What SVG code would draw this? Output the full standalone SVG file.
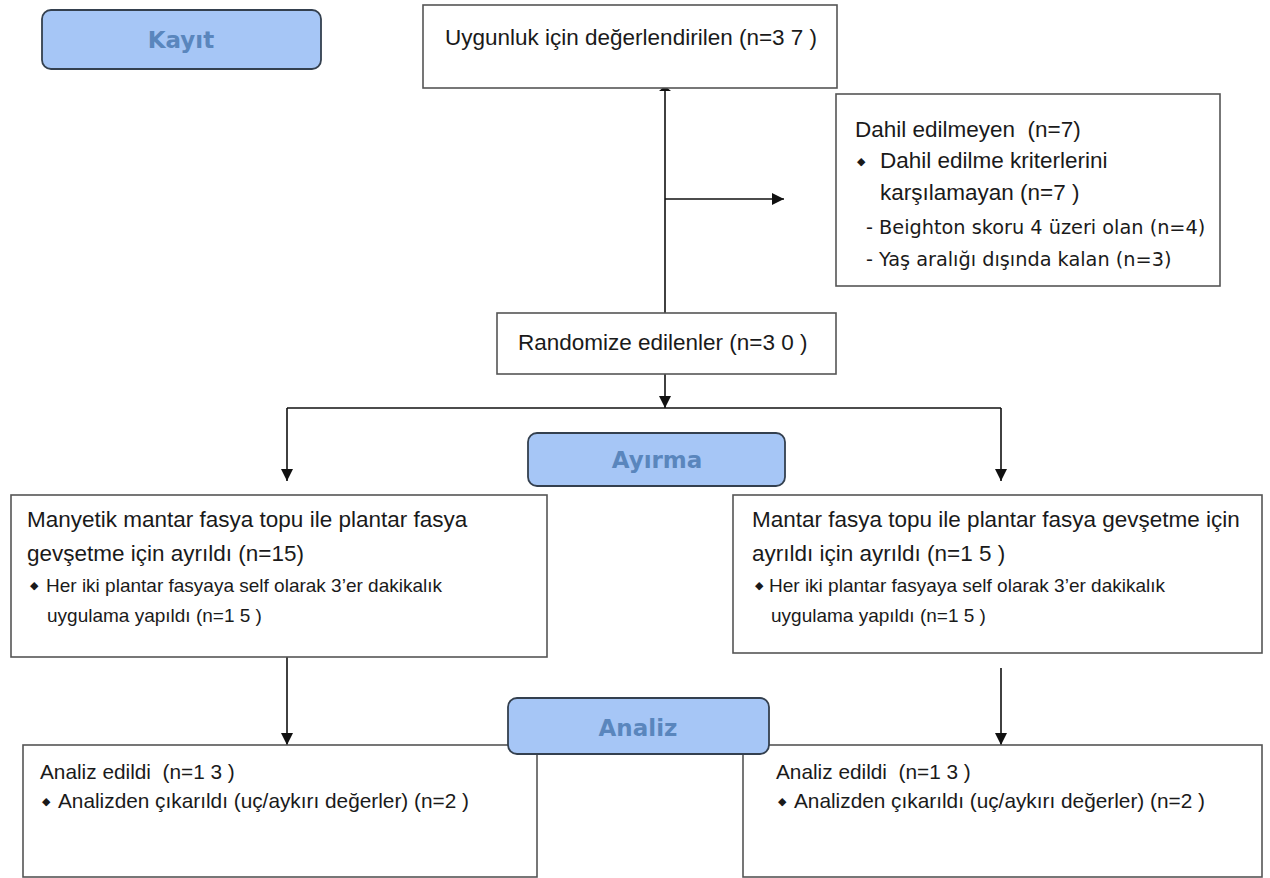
<svg xmlns="http://www.w3.org/2000/svg" width="1270" height="878" viewBox="0 0 1270 878">
<defs>
<marker id="ahb" viewBox="0 0 10 10" refX="10" refY="5" markerWidth="12" markerHeight="12" markerUnits="userSpaceOnUse" orient="auto">
<path d="M0,0 L10,5 L0,10 z" fill="#111"/>
</marker>
</defs>
<style>
.box{fill:#fff;stroke:#555;stroke-width:1.6}
.hdr{fill:#a6c6f6;stroke:#34404f;stroke-width:1.8}
.ht{font-family:"DejaVu Sans",sans-serif;font-weight:bold;font-size:23px;fill:#5a86bd;text-anchor:middle}
.t{font-family:"Liberation Sans",Arial,sans-serif;font-size:22.5px;fill:#1a1a1a;white-space:pre}
.s{font-family:"Liberation Sans",Arial,sans-serif;font-size:19px;fill:#1a1a1a}
.b{font-family:"Liberation Sans",Arial,sans-serif;font-size:20.8px;fill:#1a1a1a;white-space:pre}
.d{font-family:"DejaVu Sans",sans-serif;font-size:19.3px;fill:#1a1a1a}
.bul{font-family:"DejaVu Sans",sans-serif;font-size:11px;fill:#1a1a1a}
.ln{fill:none;stroke:#111;stroke-width:1.6}
</style>
<rect width="1270" height="878" fill="#fff"/>

<g id="connectors">
<path class="ln" d="M665,88 L665,313"/>
<path d="M659,91 L665,86 L671,91 z" fill="#111"/>
<path class="ln" d="M665,199 L784,199" marker-end="url(#ahb)"/>
<path class="ln" d="M665,374 L665,408" marker-end="url(#ahb)"/>
<path class="ln" d="M287,408 L1001,408"/>
<path class="ln" d="M287,408 L287,481" marker-end="url(#ahb)"/>
<path class="ln" d="M1001,408 L1001,481" marker-end="url(#ahb)"/>
<path class="ln" d="M287,657 L287,745" marker-end="url(#ahb)"/>
<path class="ln" d="M1001,668 L1001,745" marker-end="url(#ahb)"/>
</g>

<g id="kayit">
<rect class="hdr" x="42" y="10" width="279" height="59" rx="9"/>
<text class="ht" x="181" y="48">Kayıt</text>
</g>

<g id="uygunluk">
<rect class="box" x="423" y="5" width="414" height="83"/>
<text class="t" x="445" y="45">Uygunluk için değerlendirilen (n=3 7 )</text>
</g>

<g id="dahil-edilmeyen">
<rect class="box" x="836" y="94" width="384" height="192"/>
<text class="t" x="855" y="137" xml:space="preserve">Dahil edilmeyen  (n=7)</text>
<text class="bul" x="857" y="165">◆</text>
<text class="t" x="880" y="168">Dahil edilme kriterlerini</text>
<text class="t" x="880" y="200">karşılamayan (n=7 )</text>
<text class="d" x="866" y="234">- Beighton skoru 4 üzeri olan (n=4)</text>
<text class="d" x="866" y="266">- Yaş aralığı dışında kalan (n=3)</text>
</g>

<g id="randomize">
<rect class="box" x="497" y="313" width="339" height="61"/>
<text class="t" x="518" y="350">Randomize edilenler (n=3 0 )</text>
</g>

<g id="sol-grup">
<rect class="box" x="11" y="495" width="536" height="162"/>
<text class="t" x="27" y="527">Manyetik mantar fasya topu ile plantar fasya</text>
<text class="t" x="27" y="561">gevşetme için ayrıldı (n=15)</text>
<text class="bul" x="30" y="589">◆</text>
<text class="s" x="46" y="592">Her iki plantar fasyaya self olarak 3’er dakikalık</text>
<text class="s" x="47" y="622">uygulama yapıldı (n=1 5 )</text>
</g>

<g id="sag-grup">
<rect class="box" x="733" y="495" width="529" height="158"/>
<text class="t" x="752" y="527">Mantar fasya topu ile plantar fasya gevşetme için</text>
<text class="t" x="752" y="561">ayrıldı için ayrıldı (n=1 5 )</text>
<text class="bul" x="755" y="589">◆</text>
<text class="s" x="769" y="592">Her iki plantar fasyaya self olarak 3’er dakikalık</text>
<text class="s" x="771" y="622">uygulama yapıldı (n=1 5 )</text>
</g>

<g id="ayirma">
<rect class="hdr" x="528" y="433" width="257" height="53" rx="9"/>
<text class="ht" x="657" y="468">Ayırma</text>
</g>

<g id="sol-analiz">
<rect class="box" x="23" y="745" width="514" height="132"/>
<text class="b" x="40" y="779" xml:space="preserve">Analiz edildi  (n=1 3 )</text>
<text class="bul" x="42" y="805">◆</text>
<text class="b" x="58" y="808">Analizden çıkarıldı (uç/aykırı değerler) (n=2 )</text>
</g>

<g id="sag-analiz">
<rect class="box" x="743" y="745" width="519" height="132"/>
<text class="b" x="776" y="779" xml:space="preserve">Analiz edildi  (n=1 3 )</text>
<text class="bul" x="778" y="805">◆</text>
<text class="b" x="794" y="808">Analizden çıkarıldı (uç/aykırı değerler) (n=2 )</text>
</g>

<g id="analiz">
<rect class="hdr" x="508" y="698" width="261" height="56" rx="9"/>
<text class="ht" x="638" y="736">Analiz</text>
</g>
</svg>
